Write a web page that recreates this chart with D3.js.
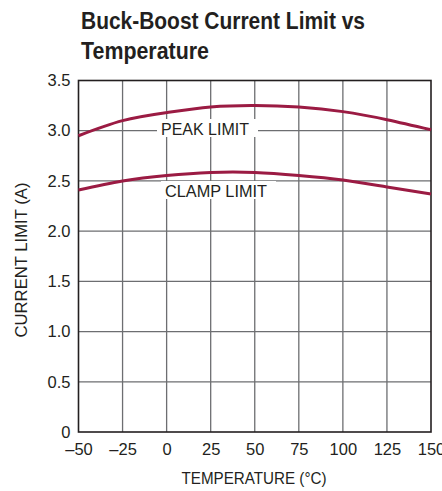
<!DOCTYPE html>
<html><head><meta charset="utf-8">
<script src="https://cdn.jsdelivr.net/npm/d3@7"></script>
<style>body{margin:0;background:#fff}svg{display:block}</style>
</head><body>
<script>
const temps = [-50, -25, 0, 25, 50, 75, 100, 125, 150];
const peakLimit = [2.95, 3.10, 3.18, 3.235, 3.25, 3.235, 3.19, 3.11, 3.01];
const clampLimit = [2.41, 2.50, 2.555, 2.585, 2.585, 2.555, 2.51, 2.44, 2.37];
const xTicks = [-50, -25, 0, 25, 50, 75, 100, 125, 150];
const xTickLabels = ["\u201350", "\u201325", "0", "25", "50", "75", "100", "125", "150"];
const yTicks = [0, 0.5, 1, 1.5, 2, 2.5, 3, 3.5];
const yTickLabels = ["0", "0.5", "1.0", "1.5", "2.0", "2.5", "3.0", "3.5"];

const W = 442, H = 491;
const m = {left: 78.5, right: 431, top: 80.5, bottom: 432};
const svg = d3.select("body").append("svg").attr("width", W).attr("height", H);
const x = d3.scaleLinear().domain([-50, 150]).range([m.left, m.right]);
const y = d3.scaleLinear().domain([0, 3.5]).range([m.bottom, m.top]);
const font = "'Liberation Sans', Arial, sans-serif";
const ink = "#231f20";

// title
const title = svg.append("g").attr("font-family", font).attr("font-weight", "bold")
  .attr("font-size", 23).attr("fill", ink);
title.append("text").attr("x", 81).attr("y", 29).attr("textLength", 284).attr("lengthAdjust", "spacingAndGlyphs")
  .text("Buck-Boost Current Limit vs");
title.append("text").attr("x", 81).attr("y", 59).attr("textLength", 128).attr("lengthAdjust", "spacingAndGlyphs")
  .text("Temperature");

// grid
const grid = svg.append("g");
grid.selectAll("line.v").data(xTicks.slice(1, -1)).enter().append("line")
  .attr("x1", d => x(d)).attr("x2", d => x(d)).attr("y1", m.top).attr("y2", m.bottom)
  .attr("stroke", "#6d6e71").attr("stroke-width", 1.3);
grid.selectAll("line.h").data(yTicks.slice(1, -1)).enter().append("line")
  .attr("y1", d => y(d)).attr("y2", d => y(d)).attr("x1", m.left).attr("x2", m.right)
  .attr("stroke", "#6d6e71").attr("stroke-width", 1.3);
svg.append("rect").attr("x", m.left).attr("y", m.top).attr("width", m.right - m.left)
  .attr("height", m.bottom - m.top).attr("fill", "none").attr("stroke", ink).attr("stroke-width", 1.6);

// axes labels
const xAxis = d3.axisBottom(x).tickValues(xTicks).tickFormat((d, i) => xTickLabels[i]).tickSize(0).tickPadding(11);
const gx = svg.append("g").attr("transform", `translate(0,${m.bottom})`).call(xAxis);
gx.select(".domain").remove();
gx.selectAll("text").attr("font-family", font).attr("font-size", 16.5).attr("fill", ink);
const yAxis = d3.axisLeft(y).tickValues(yTicks).tickFormat((d, i) => yTickLabels[i]).tickSize(0).tickPadding(8);
const gy = svg.append("g").attr("transform", `translate(${m.left},0)`).call(yAxis);
gy.select(".domain").remove();
gy.selectAll("text").attr("font-family", font).attr("font-size", 16.5).attr("fill", ink);

svg.append("text").attr("x", 254).attr("y", 484).attr("text-anchor", "middle")
  .attr("font-family", font).attr("font-size", 16).attr("fill", ink)
  .attr("textLength", 145).attr("lengthAdjust", "spacingAndGlyphs").text("TEMPERATURE (°C)");
svg.append("text").attr("transform", `translate(27,260) rotate(-90)`)
  .attr("text-anchor", "middle").attr("font-family", font).attr("font-size", 16.5).attr("fill", ink)
  .attr("textLength", 155).attr("lengthAdjust", "spacingAndGlyphs").text("CURRENT LIMIT (A)");

// curves
const line = d3.line().x((d, i) => x(temps[i])).y(d => y(d)).curve(d3.curveNatural);
[peakLimit, clampLimit].forEach(s => {
  svg.append("path").attr("d", line(s)).attr("fill", "none").attr("stroke", "#9b1b43").attr("stroke-width", 3);
});

// inline labels
function label(text, x0, x1, bx0, bx1, cy) {
  svg.append("rect").attr("x", bx0).attr("y", cy - 9).attr("width", bx1 - bx0).attr("height", 18).attr("fill", "#fff");
  svg.append("text").attr("x", x0).attr("y", cy + 6.5)
    .attr("font-family", font).attr("font-size", 17).attr("fill", ink)
    .attr("textLength", x1 - x0).attr("lengthAdjust", "spacingAndGlyphs").text(text);
}
label("PEAK LIMIT", 161, 249, 157, 258, 128);
label("CLAMP LIMIT", 165, 267, 161, 276, 190);
</script>
</body></html>
